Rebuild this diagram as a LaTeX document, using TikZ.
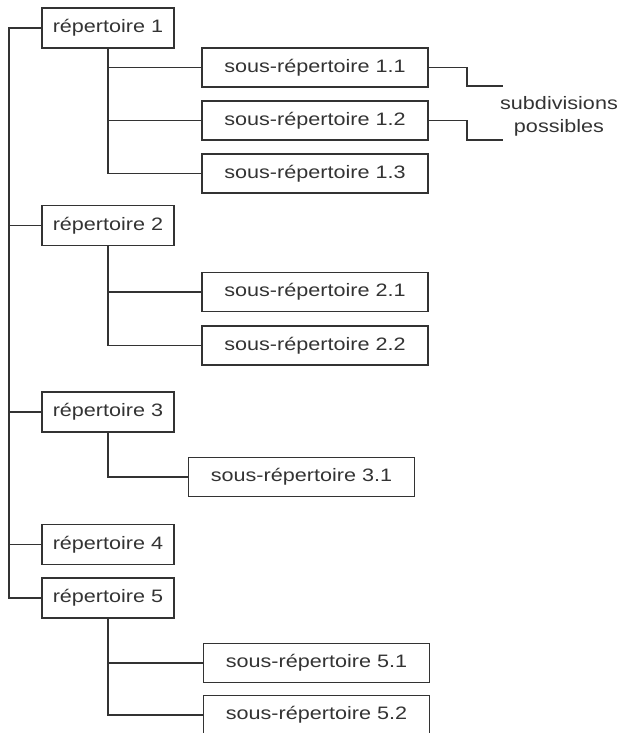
\documentclass[tikz,border=0pt]{standalone}
\usepackage{fontspec}
\setmainfont{Liberation Sans}[FakeStretch=1.2]
\begin{document}
\begin{tikzpicture}[x=1pt,y=-1pt,
  wire/.style={draw=black!80,line width=1.6pt},
  rep/.style={draw=black!80,line width=1.6pt,fill=white,minimum width=132pt,minimum height=40pt,inner sep=0pt,text=black!80,font=\fontsize{18}{21}\selectfont},
  sub/.style={rep,minimum width=226pt,minimum height=39pt}]
\useasboundingbox[fill=white] (0,0) rectangle (624,733);
% main folders
\node[rep] (r1) at (108,28) {répertoire 1};
\node[rep] (r2) at (108,225.5) {répertoire 2};
\node[rep] (r3) at (108,412) {répertoire 3};
\node[rep] (r4) at (108,544.5) {répertoire 4};
\node[rep] (r5) at (108,598) {répertoire 5};
% sub folders
\node[sub] (s11) at (315,67.5) {sous-répertoire 1.1};
\node[sub] (s12) at (315,120.5) {sous-répertoire 1.2};
\node[sub] (s13) at (315,173.5) {sous-répertoire 1.3};
\node[sub] (s21) at (315,292) {sous-répertoire 2.1};
\node[sub] (s22) at (315,345.5) {sous-répertoire 2.2};
\node[sub] (s31) at (301.5,477) {sous-répertoire 3.1};
\node[sub] (s51) at (316.5,663) {sous-répertoire 5.1};
\node[sub] (s52) at (316.5,715) {sous-répertoire 5.2};
% subdivisions label
\node[text=black!80,align=center,font=\fontsize{18}{23}\selectfont] (subd) at (559,116) {subdivisions\\possibles};
% trunk
\coordinate (t1) at (9,28);
\coordinate (t5) at (9,598);
\draw[wire] (r1.west) -- (t1) -- (t5) -- (r5.west);
\draw[wire] (r2.west) -- (r2.west -| t1);
\draw[wire] (r3.west) -- (r3.west -| t1);
\draw[wire] (r4.west) -- (r4.west -| t1);
% branches
\draw[wire] (r1.south) |- (s11.west);
\draw[wire] (r1.south) |- (s12.west);
\draw[wire] (r1.south) |- (s13.west);
\draw[wire] (r2.south) |- (s21.west);
\draw[wire] (r2.south) |- (s22.west);
\draw[wire] (r3.south) |- (s31.west);
\draw[wire] (r5.south) |- (s51.west);
\draw[wire] (r5.south) |- (s52.west);
% subdivision hooks
\coordinate (d1) at (503,86);
\coordinate (d2) at (503,140);
\draw[wire] (s11.east) -- ++(38,0) |- (d1);
\draw[wire] (s12.east) -- ++(38,0) |- (d2);
\end{tikzpicture}
\end{document}
